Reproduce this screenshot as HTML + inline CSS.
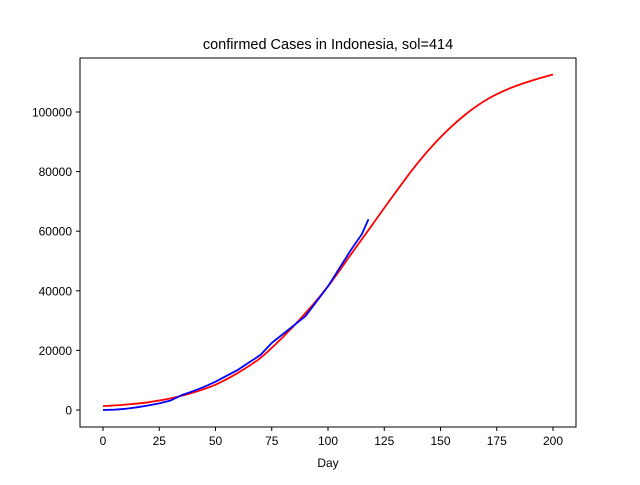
<!DOCTYPE html>
<html><head><meta charset="utf-8"><style>
body{margin:0;background:#fff}
svg{font-family:"Liberation Sans","DejaVu Sans",sans-serif}
</style></head><body>
<svg id="c" width="640" height="480" viewBox="0 0 640 480">
<rect x="0" y="0" width="640" height="480" fill="#fff"/>
<text x="328" y="49" font-size="14.5" text-anchor="middle">confirmed Cases in Indonesia, sol=414</text>
<g id="plot"></g>
<rect x="80" y="58" width="496" height="369" fill="none" stroke="#000" stroke-width="1"/>
<text x="328" y="467" font-size="12" text-anchor="middle">Day</text>
</svg>
<script>
const xTicks=[0,25,50,75,100,125,150,175,200];
const yTicks=[0,20000,40000,60000,80000,100000];
const fitDays=[0,10,20,30,40,50,60,70,80,90,100,110,120,130,140,150,160,170,180,190,200];
const fitValues=[1300,1800,2600,3900,5800,8500,12500,17500,24500,32500,41500,52000,62500,73000,83000,91500,98500,103900,107700,110400,112600];
const obsDays=[0,5,10,15,20,25,30,35,40,45,50,55,60,65,70,75,80,85,90,95,100,105,110,115,118];
const obsValues=[0,100,400,900,1500,2200,3200,5000,6300,7800,9500,11500,13500,16000,18500,22500,25500,28500,31500,36500,41500,47500,53500,59000,64000];
const NS="http://www.w3.org/2000/svg";
const xs=v=>103+v*2.25;
const ys=v=>410-v*0.00298;
const g=document.getElementById('plot');
function mk(t,a){const e=document.createElementNS(NS,t);for(const k in a)e.setAttribute(k,a[k]);return e;}
xTicks.forEach(t=>{
 const l=mk('line',{x1:xs(t),x2:xs(t),y1:427,y2:431,stroke:'#000'});
 
 
 g.appendChild(l);
 const tx=mk('text',{x:xs(t),y:445,'font-size':12,'text-anchor':'middle'});
 
 
 tx.textContent=t;g.appendChild(tx);
});
yTicks.forEach(t=>{
 const l=mk('line',{x1:76,x2:80,y1:ys(t),y2:ys(t),stroke:'#000'});
 
 
 g.appendChild(l);
 const tx=mk('text',{x:72,y:ys(t)+4.5,'font-size':12,'text-anchor':'end'});
 
 
 tx.textContent=t;g.appendChild(tx);
});
function smooth(d,v){
 const p=d.map((x,i)=>[xs(x),ys(v[i])]);
 let s='M'+p[0][0]+','+p[0][1];
 for(let i=0;i<p.length-1;i++){
  const p0=p[i-1]||p[i],p1=p[i],p2=p[i+1],p3=p[i+2]||p2;
  const c1=[p1[0]+(p2[0]-p0[0])/6,p1[1]+(p2[1]-p0[1])/6];
  const c2=[p2[0]-(p3[0]-p1[0])/6,p2[1]-(p3[1]-p1[1])/6];
  s+=' C'+c1.map(n=>n.toFixed(1))+' '+c2.map(n=>n.toFixed(1))+' '+p2.map(n=>n.toFixed(1));
 }
 return s;
}
function pts(d,v){return d.map((x,i)=>xs(x).toFixed(1)+','+ys(v[i]).toFixed(1)).join(' ');}
const red=mk('path',{d:smooth(fitDays,fitValues),fill:'none',stroke:'#ff0000','stroke-width':1.8});


g.appendChild(red);
const blue=mk('polyline',{points:pts(obsDays,obsValues),fill:'none',stroke:'#0000ff','stroke-width':1.8});


g.appendChild(blue);
</script>
</body></html>
